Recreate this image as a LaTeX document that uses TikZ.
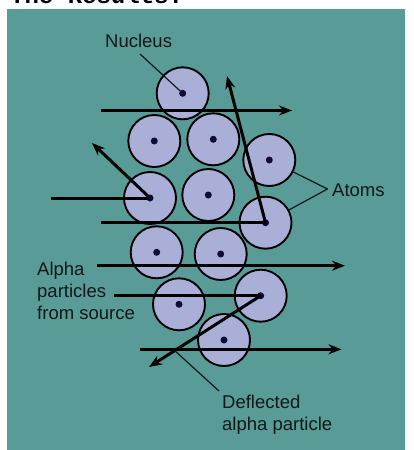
\documentclass[tikz,border=0pt]{standalone}
\usepackage{fontspec}
\setmainfont{Liberation Sans}
\newfontfamily\titlefont{Liberation Mono}
\usetikzlibrary{arrows.meta}
\definecolor{bgteal}{RGB}{89,155,151}
\definecolor{atomfill}{RGB}{170,175,216}
\definecolor{nucdot}{RGB}{14,11,58}
\definecolor{inkc}{RGB}{18,24,26}
\tikzset{
  atom/.style={circle,draw=black,line width=1.9pt,fill=atomfill,minimum size=52pt,inner sep=0pt},
  ray/.style={line width=3pt,draw=black},
  rayarrow/.style={ray,-{Stealth[length=13pt,width=10pt]}},
  leader/.style={line width=1.2pt,draw=inkc},
  lbl/.style={font=\fontsize{18.5}{22}\selectfont,text=inkc,inner sep=0pt,align=left}
}
\begin{document}
\begin{tikzpicture}[x=1pt,y=-1pt]
\useasboundingbox (0,0) rectangle (414,450);
\begin{scope}
\clip (0,0) rectangle (414,450);
\node[anchor=base west,inner sep=0pt,font=\titlefont\bfseries\fontsize{24}{24}\selectfont] (title) at (10,3.5) {The Results:};
\fill[bgteal] (7,9) rectangle (405,452);
\end{scope}
% atoms
\node[atom] (a1) at (182.7,93.3) {};
\node[atom] (a2) at (154.3,141) {};
\node[atom] (a3) at (213.3,139.3) {};
\node[atom] (a4) at (269.3,160) {};
\node[atom] (a5) at (150,198) {};
\node[atom] (a6) at (208.3,195) {};
\node[atom] (a7) at (265.5,222.7) {};
\node[atom] (a8) at (156.7,252.3) {};
\node[atom] (a9) at (220.7,254) {};
\node[atom] (a10) at (179,304.3) {};
\node[atom] (a11) at (260.7,295.7) {};
\node[atom] (a12) at (224,340) {};
\foreach \i in {1,...,12} {\fill[nucdot] (a\i.center) circle (3.5pt);}
% labels
\node[lbl,anchor=base west] (nuc) at (105,47.7) {Nucleus};
\node[lbl,anchor=base west] (atoms) at (332,196) {Atoms};
\node[lbl,anchor=north west] (alpha) at (37,262) {Alpha\\particles\\from source};
\node[lbl,anchor=north west] (defl) at (222,395) {Deflected\\alpha particle};
% free ends of rays
\coordinate (s1) at (101,110.5);  \coordinate (e1) at (292,110.5);
\coordinate (s2) at (50.5,198);   \coordinate (t2) at (92,143);
\coordinate (s3) at (101,222.7);  \coordinate (t3) at (227,76);
\coordinate (s4) at (97,265.7);   \coordinate (e4) at (345,265.7);
\coordinate (s5) at (114,295.7);  \coordinate (t5) at (149,367);
\coordinate (s6) at (140,349.3);  \coordinate (e6) at (341.5,349.3);
% rays
\draw[rayarrow] (s1) -- (e1);
\draw[ray] (s2) -- (a5.center);
\draw[rayarrow] (a5.center) -- (t2);
\draw[ray] (s3) -- (a7.center);
\draw[rayarrow] (a7.center) -- (t3);
\draw[rayarrow] (s4) -- (e4);
\draw[ray] (s5) -- (a11.center);
\draw[rayarrow] (a11.center) -- (t5);
\draw[rayarrow] (s6) -- (e6);
% leaders
\draw[leader] (140,54) -- (a1.center);
\coordinate (av) at (327.5,189);
\draw[leader] (av) -- (a4);
\draw[leader] (av) -- (a7);
\path (a11.center) -- (t5) coordinate[pos=0.77] (dp);
\coordinate (dl) at (219,391);
\draw[leader] (dl) -- (dp);
\end{tikzpicture}
\end{document}
